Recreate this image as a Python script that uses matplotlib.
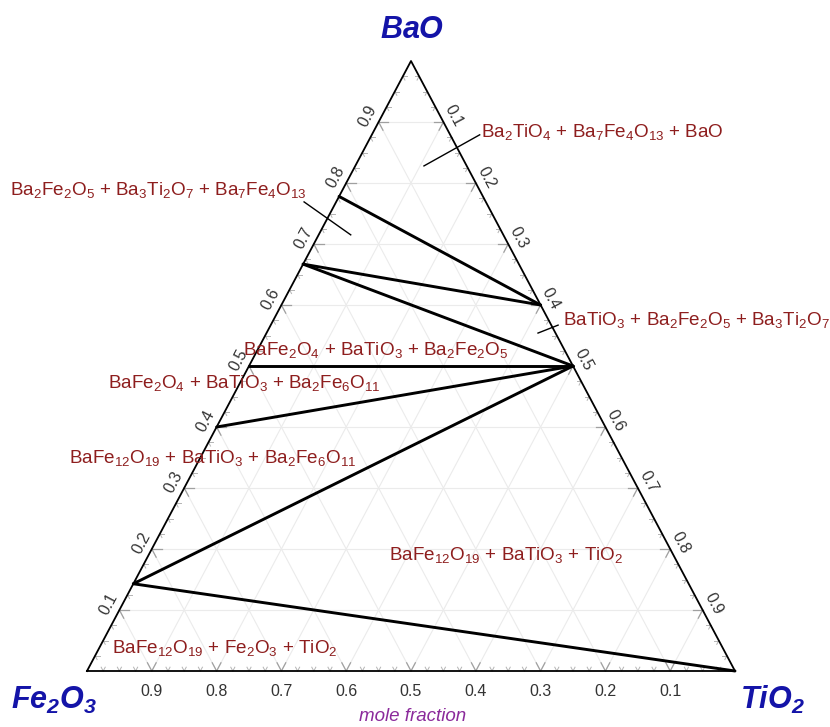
import numpy as np
import matplotlib
matplotlib.use("Agg")
import matplotlib.pyplot as plt

plt.rcParams['font.family'] = ['Liberation Sans', 'DejaVu Sans']
plt.rcParams['mathtext.fontset'] = 'custom'
plt.rcParams['mathtext.rm'] = 'Liberation Sans'
plt.rcParams['mathtext.it'] = 'Liberation Sans:italic'
plt.rcParams['mathtext.bf'] = 'Liberation Sans:bold:italic'
plt.rcParams['mathtext.default'] = 'rm'

# phase compositions as mole fractions (Fe2O3, TiO2, BaO)
phases = ['Fe2O3', 'TiO2', 'BaO', 'BaTiO3', 'Ba3Ti2O7', 'Ba7Fe4O13',
          'Ba2Fe2O5', 'BaFe2O4', 'Ba2Fe6O11', 'BaFe12O19']
fe_frac = [1.0, 0.0, 0.0, 0.0, 0.0, 0.222, 0.333, 0.5, 0.6, 0.857]
ti_frac = [0.0, 1.0, 0.0, 0.5, 0.4, 0.0, 0.0, 0.0, 0.0, 0.0]
ba_frac = [0.0, 0.0, 1.0, 0.5, 0.6, 0.778, 0.667, 0.5, 0.4, 0.143]

tie_lines = [('Ba7Fe4O13', 'Ba3Ti2O7'),
             ('Ba2Fe2O5', 'Ba3Ti2O7'),
             ('Ba2Fe2O5', 'BaTiO3'),
             ('BaFe2O4', 'BaTiO3'),
             ('Ba2Fe6O11', 'BaTiO3'),
             ('BaFe12O19', 'BaTiO3'),
             ('BaFe12O19', 'TiO2')]

grid_values = [0.1, 0.2, 0.3, 0.4, 0.5, 0.6, 0.7, 0.8, 0.9]
tick_labels = ['0.1', '0.2', '0.3', '0.4', '0.5', '0.6', '0.7', '0.8', '0.9']

region_labels = [
    r'Ba$_2$TiO$_4$ + Ba$_7$Fe$_4$O$_{13}$ + BaO',
    r'Ba$_2$Fe$_2$O$_5$ + Ba$_3$Ti$_2$O$_7$ + Ba$_7$Fe$_4$O$_{13}$',
    r'BaTiO$_3$ + Ba$_2$Fe$_2$O$_5$ + Ba$_3$Ti$_2$O$_7$',
    r'BaFe$_2$O$_4$ + BaTiO$_3$ + Ba$_2$Fe$_2$O$_5$',
    r'BaFe$_2$O$_4$ + BaTiO$_3$ + Ba$_2$Fe$_6$O$_{11}$',
    r'BaFe$_{12}$O$_{19}$ + BaTiO$_3$ + Ba$_2$Fe$_6$O$_{11}$',
    r'BaFe$_{12}$O$_{19}$ + BaTiO$_3$ + TiO$_2$',
    r'BaFe$_{12}$O$_{19}$ + Fe$_2$O$_3$ + TiO$_2$',
]

RED = '#8e1e1e'
BLUE = '#1414a8'


def cart(fe, ti, ba):
    s = fe + ti + ba
    ti, ba = ti / s, ba / s
    return ti + ba / 2.0, ba


def cart_of(name):
    i = phases.index(name)
    return cart(fe_frac[i], ti_frac[i], ba_frac[i])


def grid_segments(v):
    # constant BaO, constant TiO2, constant Fe2O3
    return [((1 - v, 0, v), (0, 1 - v, v)),
            ((1 - v, v, 0), (0, v, 1 - v)),
            ((v, 1 - v, 0), (v, 0, 1 - v))]


fig = plt.figure(figsize=(8.3, 7.27), dpi=100)
ax = fig.add_axes([0, 0, 1, 1])
ax.set_xlim(-87 / 648, (830 - 87) / 648)
ax.set_ylim((671 - 727) / 610, 671 / 610)
ax.axis('off')

# faint grid
for v in grid_values:
    for a, b in grid_segments(v):
        p, q = cart(*a), cart(*b)
        ax.plot([p[0], q[0]], [p[1], q[1]], color='#ebebeb', lw=0.8, zorder=1)


# ticks along the edges: short pieces of the grid lines at each end
def edge_ticks(values, length, color, lw):
    for v in values:
        for a, b in grid_segments(v):
            p, q = np.array(cart(*a)), np.array(cart(*b))
            d = (q - p) / np.hypot(*(q - p))
            for s, e in [(p, p + d * length), (q, q - d * length)]:
                ax.plot([s[0], e[0]], [s[1], e[1]], color=color, lw=lw, zorder=2)


edge_ticks(grid_values, 0.015, '#a0a0a0', 0.9)
minor = [k * 0.025 for k in range(1, 40) if k % 4 != 0]
edge_ticks(minor, 0.007, '#b4b4b4', 0.7)

# triangle outline
corners = [cart(1, 0, 0), cart(0, 1, 0), cart(0, 0, 1), cart(1, 0, 0)]
ax.plot([c[0] for c in corners], [c[1] for c in corners], color='black', lw=1.3, zorder=4)

# tie lines
for a, b in tie_lines:
    p, q = cart_of(a), cart_of(b)
    ax.plot([p[0], q[0]], [p[1], q[1]], color='black', lw=2.1,
            solid_capstyle='round', zorder=5)

# edge tick labels
for v, lab in zip(grid_values, tick_labels):
    x, y = cart(1 - v, 0, v)
    ax.annotate(lab, (x, y), xytext=(-10.5, 5.8), textcoords='offset pixels',
                rotation=62, ha='center', va='center', fontsize=11.5, color='#333333')
    x, y = cart(0, v, 1 - v)
    ax.annotate(lab, (x, y), xytext=(10.5, 5.8), textcoords='offset pixels',
                rotation=-62, ha='center', va='center', fontsize=11.5, color='#333333')
    x, y = cart(v, 1 - v, 0)
    ax.annotate(lab, (x, y), xytext=(0, -20), textcoords='offset pixels',
                ha='center', va='center', fontsize=11.5, color='#333333')

# region labels and their pointers
label_pos = [(0.608, 0.884), (-0.119, 0.789), (0.735, 0.575), (0.241, 0.526),
             (0.032, 0.472), (-0.028, 0.349), (0.466, 0.190), (0.039, 0.038)]
for txt, (x, y) in zip(region_labels, label_pos):
    ax.text(x, y, txt, ha='left', va='center', fontsize=13.6, color=RED, zorder=6)

pointers = [((0.606, 0.879), (0.520, 0.828)),
            ((0.335, 0.769), (0.407, 0.715)),
            ((0.727, 0.567), (0.696, 0.554))]
for p, q in pointers:
    ax.plot([p[0], q[0]], [p[1], q[1]], color='black', lw=1.0, zorder=6)

# vertex names
ax.text(0.502, 1.051, r'$\mathbf{BaO}$', ha='center', va='center', fontsize=22, color=BLUE)
ax.text(-0.051, -0.048, r'$\mathbf{Fe_2O_3}$', ha='center', va='center', fontsize=22, color=BLUE)
ax.text(1.057, -0.048, r'$\mathbf{TiO_2}$', ha='center', va='center', fontsize=22, color=BLUE)
ax.text(0.502, -0.075, 'mole fraction', ha='center', va='center', fontsize=13.5,
        style='italic', color='#8b2a9b')

fig.savefig('out.png', dpi=100)
